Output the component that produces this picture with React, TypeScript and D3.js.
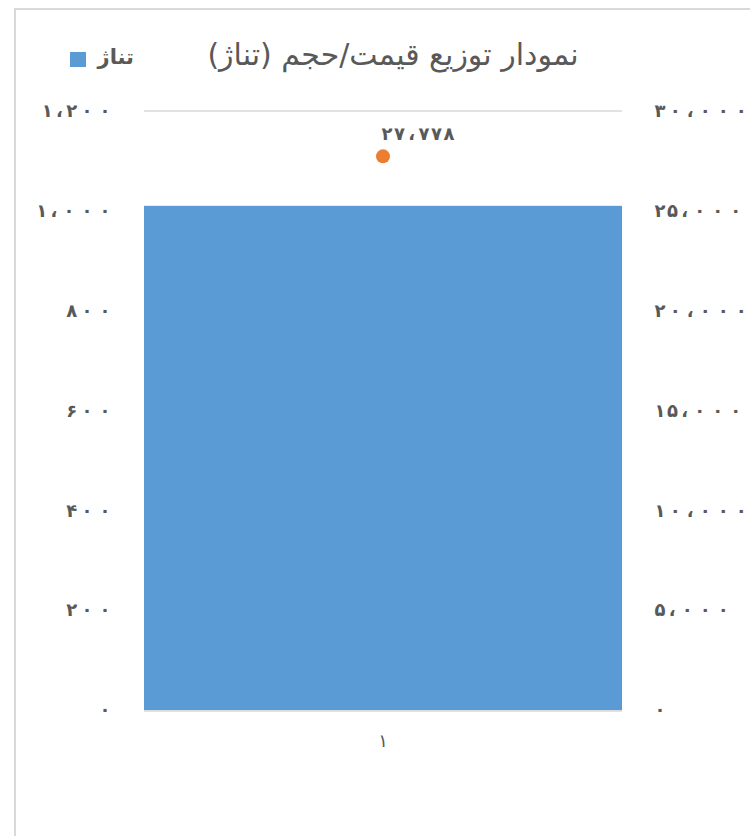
import { useEffect, useRef } from 'react'
import * as d3 from 'd3'

const categories = ['1']
const tonnage = [1010]
const pricePerVolume = [27778]
const leftTicks = [0, 200, 400, 600, 800, 1000, 1200]
const rightTicks = [0, 5000, 10000, 15000, 20000, 25000, 30000]

const title = 'نمودار توزیع قیمت/حجم (تناژ)'
const legendLabel = 'تناژ'

const faDigits = '۰۱۲۳۴۵۶۷۸۹'
function toPersian(v: number): string {
  return d3.format(',')(v).replace(/\d/g, d => faDigits[+d]).replace(/,/g, '،')
}

// Chrome drops letter-spacing on Arabic script, so the wide Excel-style
// digit spacing is laid out char by char
function charAdvance(c: string): number {
  if (c === '۰') return 18
  if (c === '،') return 12
  return 12.5
}

function spacedNumber(
  sel: d3.Selection<SVGGElement, unknown, null, undefined>,
  str: string, xAnchor: number, y: number, align: 'start' | 'end',
  style: { size: number; color: string; font: string }
) {
  const chars = Array.from(str)
  const adv = chars.map(charAdvance)
  // centres relative to first char centre
  const centres: number[] = [0]
  for (let i = 1; i < chars.length; i++) centres.push(centres[i - 1] + adv[i - 1] / 2 + adv[i] / 2)
  const shift = align === 'start' ? xAnchor : xAnchor - centres[centres.length - 1]
  chars.forEach((c, i) => {
    sel.append('text').attr('x', shift + centres[i]).attr('y', y).attr('dy', '0.35em')
      .attr('text-anchor', 'middle').attr('fill', style.color)
      .style('font-family', style.font).style('font-size', `${style.size}px`).style('font-weight', 'bold')
      .text(c)
  })
}

export default function App() {
  const svgRef = useRef<SVGSVGElement>(null)

  useEffect(() => {
    if (!svgRef.current) return
    const svg = d3.select(svgRef.current)
    svg.selectAll('*').remove()

    const W = 750
    const H = 836
    const plot = { left: 144, right: 622, top: 111, bottom: 710 }
    const textColor = '#595959'
    const font = '"DejaVu Sans", sans-serif'
    const numStyle = { size: 18, color: textColor, font }

    svg.attr('width', W).attr('height', H)

    // chart frame
    svg.append('rect').attr('x', 15).attr('y', 9).attr('width', W).attr('height', H)
      .attr('fill', '#fff').attr('stroke', '#d9d9d9').attr('stroke-width', 2)

    const x = d3.scaleBand().domain(categories).range([plot.left, plot.right]).paddingInner(0).paddingOuter(0)
    const yL = d3.scaleLinear().domain([0, 1200]).range([plot.bottom, plot.top])
    const yR = d3.scaleLinear().domain([0, 30000]).range([plot.bottom, plot.top])

    // gridlines
    svg.append('g').selectAll('line').data(leftTicks).enter().append('line')
      .attr('x1', plot.left).attr('x2', plot.right)
      .attr('y1', d => yL(d)).attr('y2', d => yL(d))
      .attr('stroke', '#d9d9d9').attr('stroke-width', 1.5)

    // bars
    svg.append('g').selectAll('rect').data(tonnage).enter().append('rect')
      .attr('x', (_, i) => x(categories[i])!)
      .attr('width', x.bandwidth())
      .attr('y', d => yL(d))
      .attr('height', d => yL(0) - yL(d))
      .attr('fill', '#5b9bd5')

    // category axis line
    svg.append('line').attr('x1', plot.left).attr('x2', plot.right)
      .attr('y1', plot.bottom + 1).attr('y2', plot.bottom + 1)
      .attr('stroke', '#d9d9d9').attr('stroke-width', 1.5)

    // left axis labels
    const leftG = svg.append('g')
    leftTicks.forEach(t => spacedNumber(leftG, toPersian(t), 105, yL(t), 'end', numStyle))

    // right axis labels
    const rightG = svg.append('g')
    rightTicks.forEach(t => spacedNumber(rightG, toPersian(t), 660, yR(t), 'start', numStyle))

    // category labels
    svg.append('g').selectAll('text').data(categories).enter().append('text')
      .attr('x', d => x(d)! + x.bandwidth() / 2).attr('y', 741).attr('dy', '0.35em')
      .attr('text-anchor', 'middle').attr('fill', textColor)
      .style('font-family', font).style('font-size', '18px')
      .text(d => toPersian(+d))

    // secondary series point + label
    const pts = svg.append('g')
    pricePerVolume.forEach((v, i) => {
      const cx = x(categories[i])! + x.bandwidth() / 2
      pts.append('circle').attr('cx', cx).attr('cy', yR(v) + 1).attr('r', 7).attr('fill', '#ed7d31')
      spacedNumber(pts, toPersian(v), cx + 4, yR(v) - 22, 'start', numStyle)
    })

    // title
    svg.append('text').attr('x', 393).attr('y', 54).attr('dy', '0.35em')
      .attr('text-anchor', 'middle').attr('fill', textColor)
      .style('font-family', font).style('font-size', '30px')
      .text(title)

    // legend
    svg.append('rect').attr('x', 70).attr('y', 52).attr('width', 16).attr('height', 15).attr('fill', '#5b9bd5')
    svg.append('text').attr('x', 134).attr('y', 57).attr('dy', '0.35em')
      .attr('text-anchor', 'end').attr('fill', textColor)
      .style('font-family', font).style('font-size', '21px').style('font-weight', 'bold')
      .text(legendLabel)
  }, [])

  return (
    <div>
      <style>{'body{margin:0}'}</style>
      <svg ref={svgRef} style={{ display: 'block' }} />
    </div>
  )
}
